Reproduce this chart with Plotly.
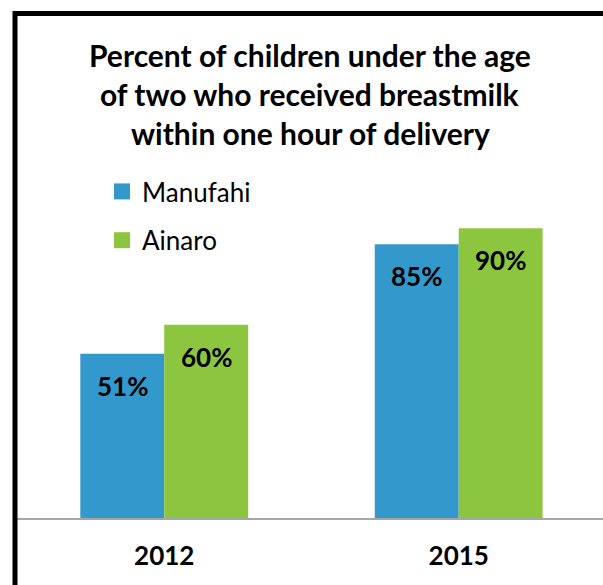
import plotly.graph_objects as go

categories = ["2012", "2015"]
series_names = ["Manufahi", "Ainaro"]
manufahi = [51, 85]
ainaro = [60, 90]
colors = ["#3399CC", "#8CC63F"]
title_lines = [
    "Percent of children under the age",
    "of two who received breastmilk",
    "within one hour of delivery",
]

W, H = 603, 585
ML, MR, MT, MB = 17, 0, 196, 585 - 518
BARGAP = 0.43

fig = go.Figure()
for name, vals, col in zip(series_names, [manufahi, ainaro], colors):
    fig.add_trace(go.Bar(
        name=name, x=categories, y=vals, marker=dict(color=col, line=dict(width=0)),
        legendgroup=name, showlegend=False,
    ))
# legend entries with larger square swatches
for name, col in zip(series_names, colors):
    fig.add_trace(go.Scatter(
        name=name, x=[None], y=[None], mode="markers",
        marker=dict(symbol="square", size=17, color=col, line=dict(width=0)),
        legendgroup=name, showlegend=True, hoverinfo="skip",
    ))

pw = W - ML - MR
plot_h = H - MT - MB

def px(x):  # screen x -> paper
    return (x - ML) / pw

def py(y):  # screen y -> paper
    return (H - MB - y) / plot_h

# value labels
bw = (1 - BARGAP) / 2
for si, vals in enumerate([manufahi, ainaro]):
    off = (si - 0.5) * bw
    for ci, v in enumerate(vals):
        fig.add_annotation(
            x=ci + off, y=v, xref="x", yref="y", text=f"{v}%", showarrow=False,
            yanchor="middle", yshift=-32,
            font=dict(family="Lato", size=26, color="black", weight="bold"),
        )

# title lines
for i, line in enumerate(title_lines):
    ypix = 55 + i * 39
    fig.add_annotation(
        x=px(310), y=py(ypix), xref="paper", yref="paper",
        text=line, showarrow=False, xanchor="center", yanchor="middle",
        font=dict(family="Lato", size=30, color="black", weight="bold"),
    )

# frame lines (left and top)
fig.add_shape(type="line", xref="paper", yref="paper", x0=px(15), x1=px(15), y0=py(600), y1=py(11),
              line=dict(color="black", width=5))
fig.add_shape(type="line", xref="paper", yref="paper", x0=px(13), x1=px(620), y0=py(13.5), y1=py(13.5),
              line=dict(color="black", width=5))

fig.update_layout(
    width=W, height=H,
    margin=dict(l=ML, r=MR, t=MT, b=MB, pad=0),
    paper_bgcolor="white", plot_bgcolor="white",
    barmode="group", bargap=BARGAP, bargroupgap=0,
    showlegend=True,
    legend=dict(x=px(102), y=py(168), xanchor="left", yanchor="top",
                font=dict(family="Lato", size=26, color="black"),
                tracegroupgap=12, bgcolor="rgba(0,0,0,0)", itemsizing="trace"),
    xaxis=dict(range=[-0.5, 1.49], showline=True, linecolor="#A6A6A6", linewidth=2,
               showgrid=False, zeroline=False, ticks="", ticklabelstandoff=14,
               tickfont=dict(family="Lato", size=26, color="black", weight="bold")),
    yaxis=dict(range=[0, 100], visible=False),
)

fig.write_html(
    "out.html",
    config={"displayModeBar": False},
    post_script="document.body.style.margin='0';document.body.style.overflow='hidden';",
)
